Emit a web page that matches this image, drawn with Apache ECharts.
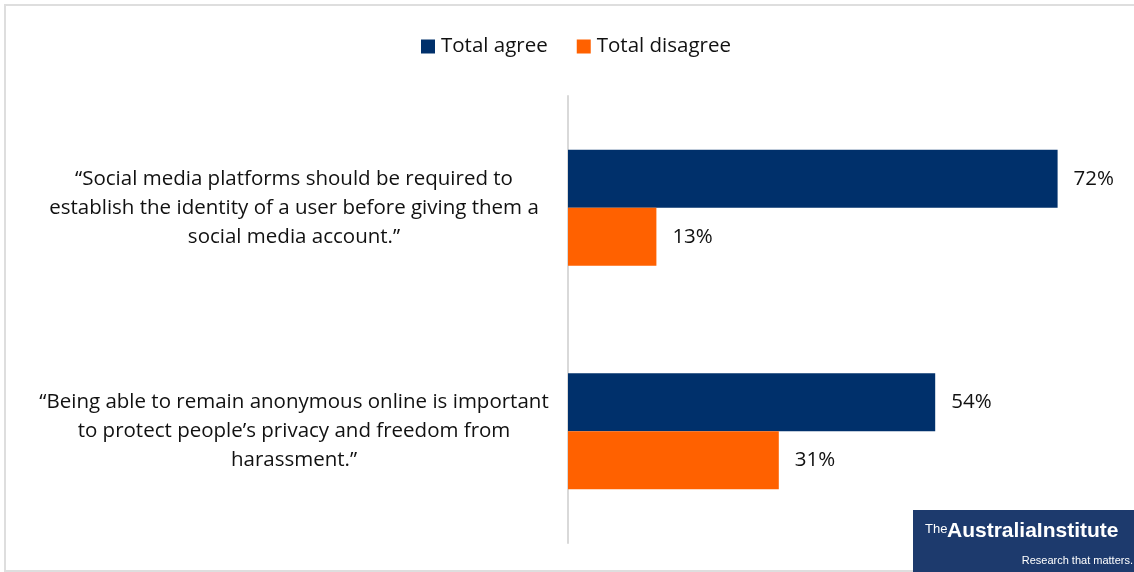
<!DOCTYPE html>
<html>
<head>
<meta charset="utf-8">
<script src="https://cdn.jsdelivr.net/npm/echarts@6/dist/echarts.min.js"></script>
<style>
  html, body { margin: 0; padding: 0; background: #fff; }
  #chart { width: 1134px; height: 572px; }
</style>
</head>
<body>
<div id="chart"></div>
<script>
// Survey statements (line breaks as set in the label block)
const categories = [
  '\u201cSocial media platforms should be required to\nestablish the identity of a user before giving them a\nsocial media account.\u201d',
  '\u201cBeing able to remain anonymous online is important\nto protect people\u2019s privacy and freedom from\nharassment.\u201d'
];
const seriesNames = ['Total agree', 'Total disagree'];
const totalAgree = [72, 54];
const totalDisagree = [13, 31];

const NAVY = '#00306B';
const ORANGE = '#FF6100';
const FONT = '"Open Sans", "Noto Sans", sans-serif';
const LOGO_FONT = '"Liberation Sans Narrow", "Liberation Sans", sans-serif';

const chart = echarts.init(document.getElementById('chart'), null, { renderer: 'canvas' });

const valueLabel = {
  show: true,
  position: 'right',
  distance: 16,
  formatter: p => p.value + '%',
  color: '#111',
  fontSize: 20.5,
  fontFamily: FONT
};

chart.setOption({
  animation: false,
  backgroundColor: '#fff',
  legend: {
    top: 31,
    left: 416,
    itemWidth: 14,
    itemHeight: 14,
    itemGap: 29,
    icon: 'rect',
    textStyle: { fontSize: 20.5, fontFamily: FONT, color: '#111', padding: [0, 0, 0, 1] },
    data: seriesNames
  },
  grid: { left: 568, right: 22, top: 96, bottom: 29, containLabel: false },
  xAxis: {
    type: 'value',
    min: 0,
    max: 80,
    show: false,
    splitLine: { show: false }
  },
  yAxis: {
    type: 'category',
    inverse: true,
    data: categories,
    axisTick: { show: false },
    axisLine: { show: true, lineStyle: { color: '#d9d9d9', width: 2 } },
    axisLabel: {
      align: 'center',
      margin: 274,
      fontSize: 20.5,
      lineHeight: 29,
      fontFamily: FONT,
      color: '#111'
    }
  },
  series: [
    {
      name: seriesNames[0],
      type: 'bar',
      data: totalAgree,
      itemStyle: { color: NAVY },
      barWidth: 58,
      barGap: '0%',
      label: valueLabel
    },
    {
      name: seriesNames[1],
      type: 'bar',
      data: totalDisagree,
      itemStyle: { color: ORANGE },
      barWidth: 58,
      barGap: '0%',
      label: valueLabel
    }
  ],
  graphic: [
    {
      type: 'rect',
      shape: { x: 5, y: 5, width: 1140, height: 566 },
      style: { fill: 'none', stroke: '#dedede', lineWidth: 2 },
      silent: true,
      z: -1
    },
    {
      type: 'group',
      left: 913,
      top: 510,
      children: [
        { type: 'rect', shape: { x: 0, y: 0, width: 221, height: 62 }, style: { fill: '#1d3a6d' } },
        {
          type: 'text', x: 12, y: 13,
          style: { text: 'The', fill: '#fff', fontSize: 13, fontFamily: LOGO_FONT }
        },
        {
          type: 'text', x: 34, y: 11,
          style: { text: 'AustraliaInstitute', fill: '#fff', fontSize: 21, fontWeight: 'bold', fontFamily: LOGO_FONT }
        },
        {
          type: 'text', x: 220, y: 45,
          style: { text: 'Research that matters.', fill: '#fff', fontSize: 11, align: 'right', fontFamily: LOGO_FONT }
        }
      ]
    }
  ]
});
</script>
</body>
</html>
